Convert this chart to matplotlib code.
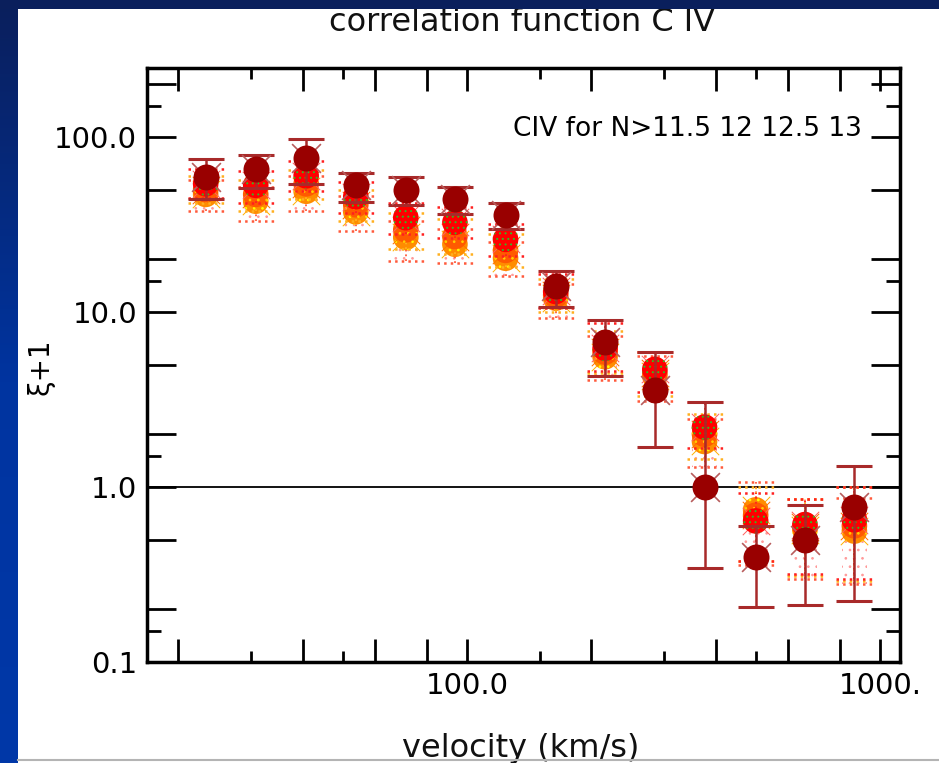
import numpy as np
import matplotlib
matplotlib.use("Agg")
import matplotlib.pyplot as plt
from matplotlib.ticker import FixedLocator, FixedFormatter, NullFormatter
from matplotlib.colors import LinearSegmentedColormap
from matplotlib.patches import Rectangle
from matplotlib.lines import Line2D

plt.rcParams['font.family'] = ['DejaVu Sans']
plt.rcParams['hatch.linewidth'] = 0.7

# velocity bins (km/s)
velocity = np.array([23.3, 30.8, 40.8, 53.8, 71.1, 93.5, 124, 164, 216, 285, 376, 500, 658, 867])

# xi+1 for N > 11.5
xi_115 = np.array([47, 43, 49, 37.4, 26.7, 24.4, 20.3, 12.0, 5.55, 4.3, 1.82, 0.74, 0.57, 0.56])
lo_115 = np.array([38, 33, 38, 29, 19.5, 19, 16, 9.3, 4.1, 3.1, 1.30, 0.36, 0.30, 0.28])
hi_115 = np.array([57, 52, 60, 46, 33, 30, 25, 14.5, 7.3, 5.6, 2.45, 1.07, 0.85, 0.86])

# xi+1 for N > 12
xi_12 = np.array([50, 47, 54, 41, 29.5, 27, 22.5, 12.5, 5.9, 4.5, 2.0, 0.69, 0.59, 0.60])
lo_12 = np.array([42, 38, 44, 33, 23, 21.5, 18, 10.0, 4.5, 3.3, 1.45, 0.38, 0.31, 0.29])
hi_12 = np.array([60, 57, 65, 50, 37, 34, 28, 15.5, 7.8, 5.9, 2.6, 1.00, 0.85, 1.00])

# xi+1 for N > 12.5
xi_125 = np.array([54, 53, 60, 45.6, 34.6, 32.5, 26, 13.1, 6.2, 4.7, 2.2, 0.64, 0.61, 0.65])
lo_125 = np.array([45, 42, 49, 37, 28, 26.5, 21, 10.5, 4.6, 3.5, 1.68, 0.38, 0.32, 0.30])
hi_125 = np.array([66, 64, 73, 55, 42, 40, 32, 16.5, 8.6, 5.9, 3.07, 0.93, 0.85, 1.0])

# xi+1 for N > 13
xi_13 = np.array([59, 65.5, 75.5, 53, 50, 44, 36, 14.0, 6.7, 3.6, 1.0, 0.40, 0.50, 0.77])
lo_13 = np.array([44, 51, 54, 42.5, 41, 36.5, 29.7, 10.7, 4.3, 1.7, 0.346, 0.207, 0.212, 0.224])
hi_13 = np.array([75, 79, 97, 62.5, 59, 51.5, 42, 17.2, 9.0, 5.9, 3.07, 0.60, 0.79, 1.32])

x_major = [20, 40, 60, 80, 100, 200, 400, 600, 800, 1000]
x_minor = [30, 50, 150, 300, 500]
x_labels = {100: '100.0', 1000: '1000.'}
y_major = [0.1, 0.2, 0.5, 1, 2, 5, 10, 20, 50, 100, 200]
y_minor = [0.15, 1.5, 15, 150]
y_labels = {0.1: '0.1', 1: '1.0', 10: '10.0', 100: '100.0'}

W, H = 939, 763
fig = plt.figure(figsize=(W / 100, H / 100), dpi=100)
fig.patch.set_facecolor('white')

# slide background: blue strip on the left, dark band on top, grey rule at bottom
strip = fig.add_axes([0, 0, 18 / W, 1])
grad = np.linspace(0, 1, 256).reshape(-1, 1)
cmap = LinearSegmentedColormap.from_list('slide', ['#0a1f5c', '#0034a0', '#0038a8'])
strip.imshow(grad, aspect='auto', cmap=cmap, extent=[0, 1, 0, 1], origin='upper')
strip.axis('off')
fig.add_artist(Rectangle((0, 1 - 9 / H), 1, 9 / H, transform=fig.transFigure,
                         facecolor='#0a1f5c', edgecolor='none', zorder=5))
fig.add_artist(Line2D([18 / W, 1], [1 - 760 / H] * 2, transform=fig.transFigure,
                      color='#b4b4b4', lw=1.5, zorder=5))

ax = fig.add_axes([147 / W, 1 - 662 / H, (900 - 147) / W, (662 - 68) / H])
ax.set_xscale('log')
ax.set_yscale('log')
ax.set_xlim(16.8, 1118)
ax.set_ylim(0.1, 248)

cap = 10 ** (18 / 413)


def light_series(v, lo, hi, face, dots, hatch, bar, spike, z):
    ax.vlines(velocity, lo, hi, colors=bar, linestyles=':', lw=1.3, zorder=z)
    for yy in (lo, hi):
        ax.hlines(yy, velocity / cap, velocity * cap, colors=bar,
                  linestyles=':', lw=1.8, zorder=z)
    ax.scatter(velocity, v, s=390, marker='x', c=spike, linewidths=0.7, zorder=z + 0.1)
    ax.scatter(velocity, v, s=340, marker='o', facecolors=face, edgecolors=dots,
               linewidths=0, hatch=hatch, zorder=z + 0.2)


# faint dotted trails below the N>11.5 points
for xv, lv, vv in zip(velocity, lo_115, xi_115):
    ax.add_patch(Rectangle((xv / 1.07, lv), xv * 1.07 - xv / 1.07, vv - lv,
                           fill=False, hatch='..', edgecolor='#ff9a9a', lw=0, zorder=1))

light_series(xi_115, lo_115, hi_115, '#ff8c00', '#ffff00', '..', '#ff5a3c', '#ffb000', 2)
light_series(xi_12, lo_12, hi_12, '#ff5a00', '#ffd000', '..', '#ffb020', '#ff7000', 3)
light_series(xi_125, lo_125, hi_125, '#ff0000', '#33bb22', '...', '#ff2020', '#ff6060', 4)

# N>13 with solid error bars
ax.errorbar(velocity, xi_13, yerr=[xi_13 - lo_13, hi_13 - xi_13], fmt='none',
            ecolor='#a82a2a', elinewidth=1.8, capsize=13, capthick=2.2, zorder=6)
ax.scatter(velocity, xi_13, s=430, marker='x', c='#b85c5c', linewidths=1.2, zorder=6.1)
ax.scatter(velocity, xi_13, s=350, marker='o', c='#990000', linewidths=0, zorder=6.2)

ax.axhline(1.0, color='black', lw=1.3, zorder=1.5)

for sp in ax.spines.values():
    sp.set_linewidth(2.5)
    sp.set_zorder(10)

ax.xaxis.set_major_locator(FixedLocator(x_major))
ax.xaxis.set_major_formatter(FixedFormatter([x_labels.get(v, '') for v in x_major]))
ax.xaxis.set_minor_locator(FixedLocator(x_minor))
ax.xaxis.set_minor_formatter(NullFormatter())
ax.yaxis.set_major_locator(FixedLocator(y_major))
ax.yaxis.set_major_formatter(FixedFormatter([y_labels.get(v, '') for v in y_major]))
ax.yaxis.set_minor_locator(FixedLocator(y_minor))
ax.yaxis.set_minor_formatter(NullFormatter())

ax.tick_params(which='both', direction='in', top=True, right=True, width=2,
               labelsize=21, colors='black')
ax.tick_params(axis='x', which='major', length=16.5, pad=7)
ax.tick_params(axis='x', which='minor', length=8)
ax.tick_params(axis='y', which='major', length=21, pad=7)
ax.tick_params(axis='y', which='minor', length=10)

ax.text(862 / W, 1 - 136 / H, 'CIV for N>11.5 12 12.5 13', transform=fig.transFigure,
        ha='right', va='baseline', fontsize=19, color='black')

fig.text(522 / W, 1 - 31 / H, 'correlation function C IV', ha='center', va='baseline',
         fontsize=23, color='#111111')
fig.text(521 / W, 1 - 757 / H, 'velocity (km/s)', ha='center', va='baseline',
         fontsize=23, color='#111111')
fig.text(40 / W, 1 - 367 / H, 'ξ+1', rotation=90, ha='center', va='center',
         fontsize=20, color='black')

fig.savefig('out.png', dpi=100, facecolor='white')
